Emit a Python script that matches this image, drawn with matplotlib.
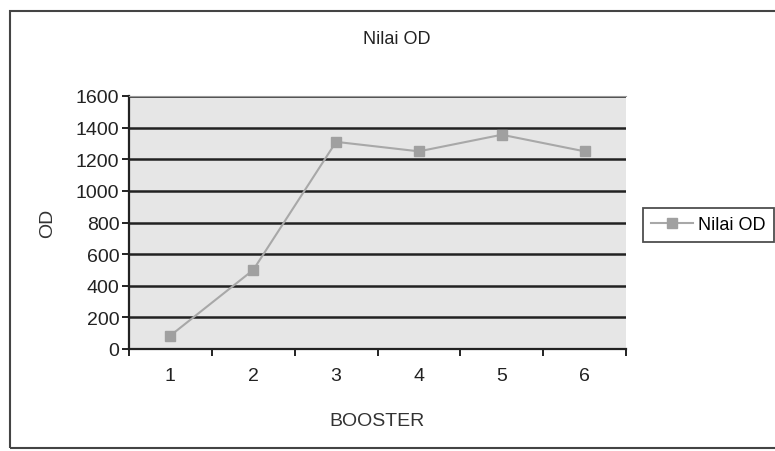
import matplotlib
matplotlib.use("Agg")
import matplotlib.pyplot as plt
from matplotlib.patches import Rectangle
from matplotlib.ticker import FixedLocator, NullFormatter

plt.rcParams["font.family"] = ["Liberation Sans", "DejaVu Sans"]

booster = [1, 2, 3, 4, 5, 6]
nilai_od = [85, 500, 1310, 1250, 1355, 1250]
y_ticks = [0, 200, 400, 600, 800, 1000, 1200, 1400, 1600]

W, H = 775, 452
fig = plt.figure(figsize=(W / 100, H / 100), dpi=100)
fig.patch.set_facecolor("white")

# plot area in pixels: x 129..626, y 97..350
ax = fig.add_axes([129 / W, 1 - 350 / H, (626 - 129) / W, (350 - 97) / H])
ax.set_facecolor("#e6e6e6")

ax.plot(booster, nilai_od, color="#a8a8a8", lw=1.5, marker="s",
        markersize=6.5, markerfacecolor="#a0a0a0", markeredgecolor="#a0a0a0",
        label="Nilai OD", zorder=3)

ax.set_xlim(0.5, 6.5)
ax.set_ylim(0, 1600)
ax.set_yticks(y_ticks)
ax.yaxis.grid(True, color="#222222", lw=1.8)
ax.set_axisbelow(True)

ax.set_xticks(booster)
ax.xaxis.set_minor_locator(FixedLocator([0.5 + i for i in range(7)]))
ax.xaxis.set_minor_formatter(NullFormatter())
ax.tick_params(axis="x", which="major", length=0, pad=13, labelsize=14,
               colors="#222222")
ax.tick_params(axis="x", which="minor", length=5, width=1.4, direction="out",
               color="#222222")
ax.tick_params(axis="y", length=5, width=1.4, direction="out", labelsize=14,
               pad=2, colors="#222222")

for s in ["left", "bottom"]:
    ax.spines[s].set_color("#222222")
    ax.spines[s].set_linewidth(1.6)
ax.spines["top"].set_color("#9a9a9a")
ax.spines["right"].set_visible(False)

ax.set_xlabel("BOOSTER", fontsize=14, color="#333333", labelpad=20)
ax.set_ylabel("OD", fontsize=14, color="#333333", labelpad=14)
fig.text(397 / W, 1 - 40 / H, "Nilai OD", fontsize=13,
         ha="center", va="center", color="#222222")

leg = fig.legend(loc="center left", bbox_to_anchor=(643 / W, 1 - 226 / H),
                 fontsize=13, frameon=True, fancybox=False, handlelength=2.3,
                 borderpad=0.45, handletextpad=0.3, borderaxespad=0)
leg.get_frame().set_edgecolor("#222222")
leg.get_frame().set_linewidth(1.3)

# outer chart border
fig.patches.append(Rectangle((10 / W, 3 / H), 1.2, 1 - 15 / H,
                             transform=fig.transFigure, fill=False,
                             edgecolor="#444444", lw=1.5))

fig.savefig("out.png", dpi=100, facecolor="white")
